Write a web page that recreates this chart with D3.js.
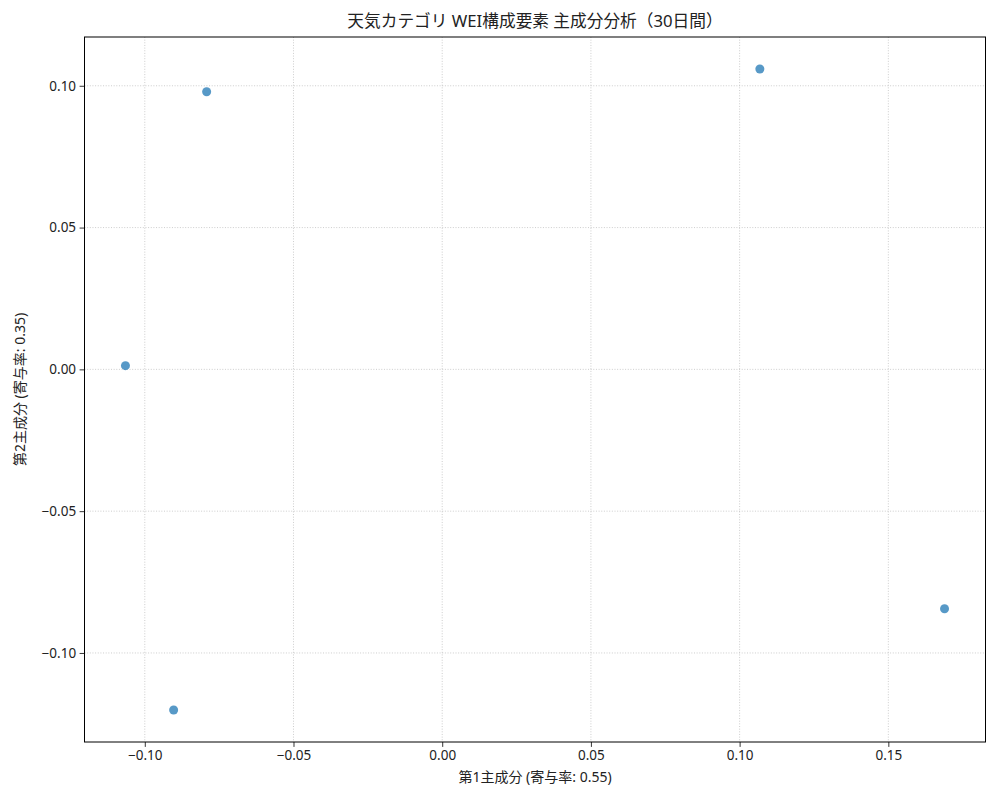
<!DOCTYPE html>
<html>
<head>
<meta charset="utf-8">
<script src="https://cdn.jsdelivr.net/npm/d3@7"></script>
<style>
  body { margin: 0; background: #fff; }
  text { font-family: "Noto Sans", "Noto Sans CJK JP", sans-serif; fill: #222; }
</style>
</head>
<body>
<div id="chart"></div>
<script>
//<data>--------------------------------------//
var titleText = "天気カテゴリ WEI構成要素 主成分分析（30日間）";
var xLabel = "第1主成分 (寄与率: 0.55)";
var yLabel = "第2主成分 (寄与率: 0.35)";
var pc1 = [-0.0792, 0.1068, -0.1065, -0.0903, 0.1689];
var pc2 = [0.0979, 0.1059, 0.0013, -0.1201, -0.0844];
var xTicks = [-0.10, -0.05, 0.00, 0.05, 0.10, 0.15];
var yTicks = [-0.10, -0.05, 0.00, 0.05, 0.10];

//<setMargin>---------------------------------//
var W = 1000, H = 800;
var margin = { top: 37, right: 14.5, bottom: 58, left: 84.5 },
    width = W - margin.left - margin.right,
    height = H - margin.top - margin.bottom;

var svg = d3.select("#chart").append("svg")
    .attr("width", W).attr("height", H);

// matplotlib style 5% padding around data
function padded(arr) {
    var ext = d3.extent(arr), p = (ext[1] - ext[0]) * 0.05;
    return [ext[0] - p, ext[1] + p];
}
var x = d3.scaleLinear().domain(padded(pc1)).range([0, width]);
var y = d3.scaleLinear().domain(padded(pc2)).range([height, 0]);

var g = svg.append("g").attr("transform", "translate(" + margin.left + "," + margin.top + ")");

//grid------------------------------------------//
g.append("g").selectAll("line").data(xTicks).enter().append("line")
    .attr("x1", function (d) { return x(d) }).attr("x2", function (d) { return x(d) })
    .attr("y1", 0).attr("y2", height)
    .attr("stroke", "#b0b0b0").attr("stroke-opacity", 0.8)
    .attr("stroke-width", 0.8).attr("stroke-dasharray", "1,1.65");
g.append("g").selectAll("line").data(yTicks).enter().append("line")
    .attr("y1", function (d) { return y(d) }).attr("y2", function (d) { return y(d) })
    .attr("x1", 0).attr("x2", width)
    .attr("stroke", "#b0b0b0").attr("stroke-opacity", 0.8)
    .attr("stroke-width", 0.8).attr("stroke-dasharray", "1,1.65");

//points----------------------------------------//
var pts = pc1.map(function (v, i) { return [v, pc2[i]] });
g.append("g").selectAll("circle").data(pts).enter().append("circle")
    .attr("cx", function (d) { return x(d[0]) })
    .attr("cy", function (d) { return y(d[1]) })
    .attr("r", 4.5)
    .attr("fill", "#1f77b4").attr("fill-opacity", 0.75);

//axes------------------------------------------//
var fmt = function (d) { return d3.format(".2f")(d).replace("-", "\u2212") };
var xAxis = g.append("g").attr("transform", "translate(0," + height + ")")
    .call(d3.axisBottom(x).tickValues(xTicks).tickFormat(fmt).tickSize(4.9).tickPadding(3.5));
var yAxis = g.append("g")
    .call(d3.axisLeft(y).tickValues(yTicks).tickFormat(fmt).tickSize(4.9).tickPadding(3.5));
[xAxis, yAxis].forEach(function (a) {
    a.select(".domain").remove();
    a.selectAll("line").attr("stroke", "#000").attr("stroke-width", 0.8);
    a.selectAll("text").style("font-size", "13.5px").attr("fill", "#222");
});

// frame
g.append("rect").attr("width", width).attr("height", height)
    .attr("fill", "none").attr("stroke", "#000").attr("stroke-width", 1);

//labels----------------------------------------//
svg.append("text").text(titleText)
    .attr("x", margin.left + width / 2).attr("y", 27)
    .style("text-anchor", "middle").style("font-size", "16.7px");
svg.append("text").text(xLabel)
    .attr("x", margin.left + width / 2).attr("y", 782)
    .style("text-anchor", "middle").style("font-size", "14px");
svg.append("text").text(yLabel)
    .attr("transform", "translate(25," + (margin.top + height / 2) + ") rotate(-90)")
    .style("text-anchor", "middle").style("font-size", "14px");
</script>
</body>
</html>
